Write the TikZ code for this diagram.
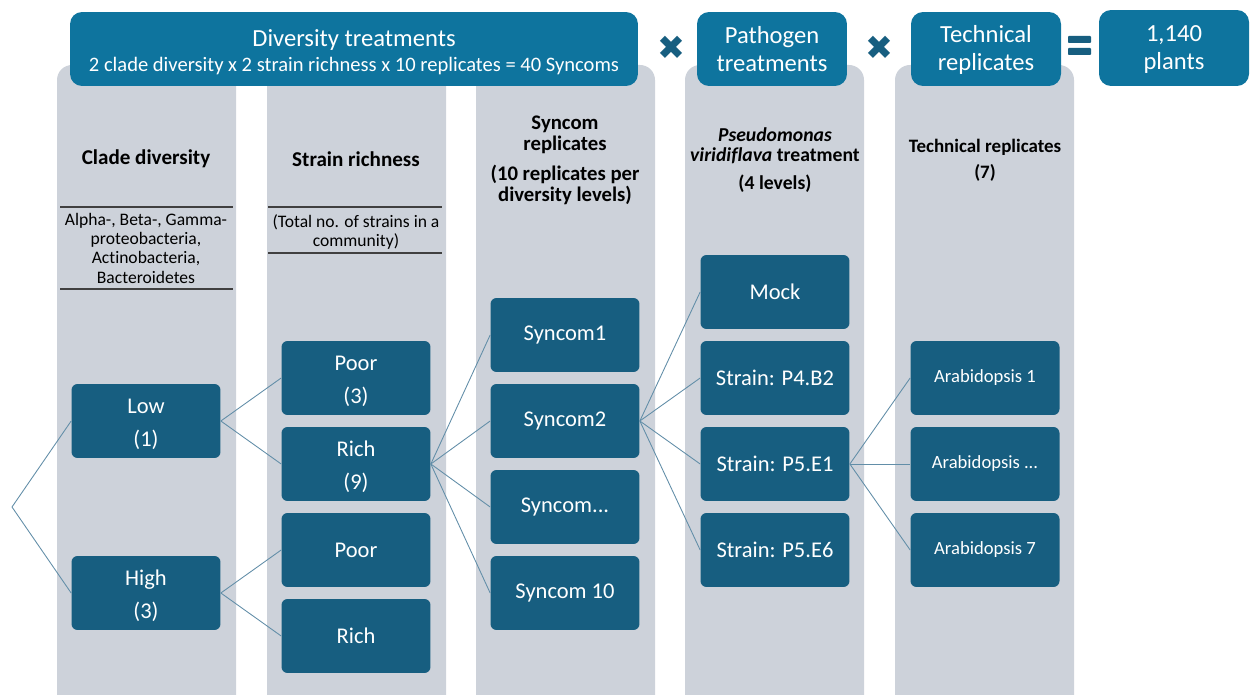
\documentclass[tikz,border=0pt]{standalone}
\usepackage{fontspec}
\setmainfont[Ligatures={NoCommon}]{Carlito}
\newfontfamily\symfont{DejaVu Sans}
\usetikzlibrary{positioning}
\definecolor{headblue}{RGB}{14,116,158}
\definecolor{boxblue}{RGB}{23,94,128}
\definecolor{colgray}{RGB}{205,210,218}
\definecolor{linkblue}{RGB}{98,142,168}

\begin{document}
\begin{tikzpicture}[x=0.02cm, y=-0.02cm,
            head/.style ={rectangle, rounded corners=0.24cm, fill=headblue, text=white, align=center,
            inner sep=0pt, minimum width=3cm, minimum height=1.48cm, font=\fontsize{14}{16}\selectfont},
            level/.style ={rectangle, rounded corners=0.12cm, fill=boxblue, text=white, align=center,
            inner sep=0pt, minimum width=2.98cm, minimum height=1.48cm, font=\fontsize{12.8}{19}\selectfont},
            title/.style ={align=center, font=\bfseries\fontsize{12}{12}\selectfont},
            note/.style ={align=center, font=\fontsize{10}{11}\selectfont},
            link/.style ={draw=linkblue, line width=0.5pt},
            rule/.style ={draw=black!75, line width=0.9pt}]

        \useasboundingbox (0,0) rectangle (1250,695);

        %columnas de fondo
        \begin{scope}
        \clip (0,0) rectangle (1250,695);
        \foreach \x in {57,267,476,685,895}
            \fill[colgray, rounded corners=0.3cm] (\x,65) rectangle (\x+179,740);
        \end{scope}

        %cabeceras
        \node[head, minimum width=11.36cm] (div) at (354,49) {\rule{0pt}{13pt}Diversity treatments\\[-2pt]
            {\fontsize{11.7}{13}\selectfont 2 clade diversity x 2 strain richness x 10 replicates = 40 Syncoms}};
        \node[head] (path) at (772,49) {Pathogen\\treatments};
        \node[head] (tech) at (986,49) {\rule{0pt}{11pt}Technical\\replicates};
        \node[head, minimum height=1.52cm] (plants) at (1174,48) {\rule{0pt}{11pt}1,140\\plants};

        \node[text=boxblue, font=\symfont\fontsize{19}{19}\selectfont] (times1) at (671,48) {✖};
        \node[text=boxblue, font=\symfont\fontsize{19}{19}\selectfont] (times2) at (879,48) {✖};
        \fill[boxblue, rounded corners=0.5pt] (1068,36) rectangle (1091,43);
        \fill[boxblue, rounded corners=0.5pt] (1068,48) rectangle (1091,55);

        %titulos de columna
        \node[title] (cladeT) at (146,159) {Clade diversity};
        \node[note] (cladeD) at (146,248) {Alpha-, Beta-, Gamma-\\proteobacteria,\\Actinobacteria,\\Bacteroidetes};
        \draw[rule] (60,207) -- (233,207);
        \draw[rule] (60,289) -- (233,289);

        \node[title] (strainT) at (356,159) {Strain richness};
        \node[note] (strainD) at (356,232) {(Total no. of strains in a\\community)};
        \draw[rule] (268,207) -- (442,207);
        \draw[rule] (268,253) -- (442,253);

        \node[title, font=\bfseries\fontsize{11.8}{12}\selectfont] (syncT) at (565,160)
            {Syncom\\replicates\\[5pt](10 replicates per\\diversity levels)};
        \node[title, font=\bfseries\fontsize{11.2}{11}\selectfont] (pathT) at (775,160)
            {\textit{Pseudomonas}\\\textit{viridiflava} treatment\\[5pt](4 levels)};
        \node[title, font=\bfseries\fontsize{10.8}{15}\selectfont] (techT) at (985,160) {Technical replicates\\(7)};

        %niveles
        \node[level] (low) at (146,421) {\rule{0pt}{12pt}Low\\(1)};
        \node[level] (high) at (146,593) {\rule{0pt}{12pt}High\\(3)};

        \node[level] (poorA) at (356,378) {\rule{0pt}{12pt}Poor\\(3)};
        \node[level] (richA) at (356,464) {\rule{0pt}{12pt}Rich\\(9)};
        \node[level] (poorB) at (356,550) {Poor};
        \node[level] (richB) at (356,636) {Rich};

        \node[level] (sc1) at (565,335) {Syncom1};
        \node[level] (sc2) at (565,421) {Syncom2};
        \node[level] (scx) at (565,507) {Syncom...};
        \node[level] (sc10) at (565,593) {Syncom 10};

        \node[level] (mock) at (775,292) {Mock};
        \node[level] (pb2) at (775,378) {Strain: P4.B2};
        \node[level] (pe1) at (775,464) {Strain: P5.E1};
        \node[level] (pe6) at (775,550) {Strain: P5.E6};

        \node[level, font=\fontsize{10.6}{12}\selectfont] (ara1) at (985,378) {Arabidopsis 1};
        \node[level, font=\fontsize{10.6}{12}\selectfont] (arax) at (985,464) {Arabidopsis ...};
        \node[level, font=\fontsize{10.6}{12}\selectfont] (ara7) at (985,550) {Arabidopsis 7};

        \coordinate (root) at (12,507);

        \path (root) edge [link] (low.west);
        \path (root) edge [link] (high.west);

        \path (low.east) edge [link] (poorA.west);
        \path (low.east) edge [link] (richA.west);
        \path (high.east) edge [link] (poorB.west);
        \path (high.east) edge [link] (richB.west);

        \path (richA.east) edge [link] (sc1.west);
        \path (richA.east) edge [link] (sc2.west);
        \path (richA.east) edge [link] (scx.west);
        \path (richA.east) edge [link] (sc10.west);

        \path (sc2.east) edge [link] (mock.west);
        \path (sc2.east) edge [link] (pb2.west);
        \path (sc2.east) edge [link] (pe1.west);
        \path (sc2.east) edge [link] (pe6.west);

        \path (pe1.east) edge [link] (ara1.west);
        \path (pe1.east) edge [link] (arax.west);
        \path (pe1.east) edge [link] (ara7.west);

    \end{tikzpicture}
\end{document}
